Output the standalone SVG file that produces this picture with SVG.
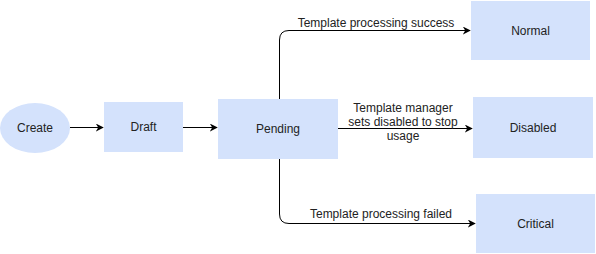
<svg xmlns="http://www.w3.org/2000/svg" width="596" height="254" viewBox="0 0 596 254">
  <defs>
    <marker id="arrow" viewBox="0 0 10 10" refX="9" refY="5" markerWidth="8" markerHeight="8" markerUnits="userSpaceOnUse" orient="auto">
      <path d="M0,0 L10,5 L0,10 L3,5 Z" fill="#000"/>
    </marker>
    <style>
      .node { fill: #d4e2fc; stroke: none; }
      .label { font-family: "Liberation Sans", Arial, sans-serif; font-size: 12px; fill: #222; text-anchor: middle; dominant-baseline: central; }
      .edge { fill: none; stroke: #000; stroke-width: 1; marker-end: url(#arrow); }
      .elabel { font-family: "Liberation Sans", Arial, sans-serif; font-size: 12px; fill: #222; text-anchor: middle; }
    </style>
  </defs>
  <rect width="596" height="254" fill="#fff"/>

  <g id="connectors">
    <path class="edge" d="M70,127.5 H103"/>
    <path class="edge" d="M183,127.5 H217"/>
    <path class="edge" d="M279.5,99 V40 Q279.5,30.5 289,30.5 H470"/>
    <path class="edge" d="M338,128.5 H472"/>
    <path class="edge" d="M279.5,159 V214 Q279.5,223.5 289,223.5 H475"/>
    <text class="elabel" x="376" y="27">Template processing success</text>
    <text class="elabel" x="403" y="112">Template manager</text>
    <text class="elabel" x="403" y="126">sets disabled to stop</text>
    <text class="elabel" x="403" y="140">usage</text>
    <text class="elabel" x="381" y="218">Template processing failed</text>
  </g>

  <g id="create">
    <ellipse class="node" cx="35" cy="128" rx="35" ry="25"/>
    <text class="label" x="35" y="128">Create</text>
  </g>
  <g id="draft">
    <rect class="node" x="104" y="102" width="79" height="50"/>
    <text class="label" x="143.5" y="127">Draft</text>
  </g>
  <g id="pending">
    <rect class="node" x="218" y="99" width="120" height="60"/>
    <text class="label" x="278" y="128.5">Pending</text>
  </g>
  <g id="normal">
    <rect class="node" x="471" y="1" width="119" height="59"/>
    <text class="label" x="530.5" y="30.5">Normal</text>
  </g>
  <g id="disabled">
    <rect class="node" x="473" y="97" width="120" height="61"/>
    <text class="label" x="533" y="127.5">Disabled</text>
  </g>
  <g id="critical">
    <rect class="node" x="476" y="194" width="119" height="59"/>
    <text class="label" x="535.5" y="223.5">Critical</text>
  </g>
</svg>
